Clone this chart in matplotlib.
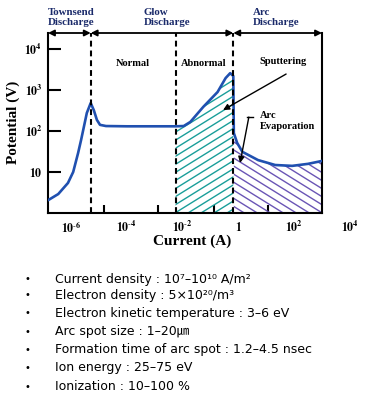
import matplotlib
matplotlib.use("Agg")
import matplotlib.pyplot as plt
import numpy as np
from matplotlib.collections import LineCollection
from matplotlib.ticker import NullLocator

plt.rcParams['mathtext.fontset'] = 'stix'

# curve
current = [1.6e-7, 3.5e-7, 7.8e-7, 1.2e-6, 1.8e-6, 2.3e-6, 2.9e-6, 3.7e-6, 5.1e-6,
           6.6e-6, 8.5e-6, 1.1e-5, 1.8e-5, 1e-4, 1e-3, 5.6e-3, 1.1e-2, 1.9e-2,
           5.6e-2, 0.18, 0.35, 0.51, 0.66, 0.69, 0.91, 1.4, 5.1, 21, 85, 316, 1000]
potential = [2.1, 2.9, 5.4, 10, 29, 60, 126, 275, 480,
             320, 186, 141, 132, 130, 130, 130, 132, 166,
             390, 890, 1950, 2570, 2190, 89, 51, 31, 19.5, 14.8, 14.1, 15.8, 18.6]

# region boundaries
glow_start = 5.1e-6
abnormal_start = 5.6e-3
arc_start = 0.66

x_ticks = [1.5e-5, 1.3e-3, 0.13, 12]
x_label_pows = [-6, -4, -2, 0, 2, 4]
y_ticks = [10, 100, 1000, 10000]
y_tick_labels = [r'$\mathbf{10}$', r'$\mathbf{10^{2}}$', r'$\mathbf{10^{3}}$', r'$\mathbf{10^{4}}$']

notes = [
    "Current density : 10\u2077\u201310\u00b9\u2070 A/m\u00b2",
    "Electron density : 5\u00d710\u00b2\u2070/m\u00b3",
    "Electron kinetic temperature : 3\u20136 eV",
    "Arc spot size : 1\u201320\u339b",
    "Formation time of arc spot : 1.2\u20134.5 nsec",
    "Ion energy : 25\u201375 eV",
    "Ionization : 10\u2013100 %",
]
note_y = [279, 295, 313, 332, 350, 368, 387]

W, H = 366, 399
fig = plt.figure(figsize=(W / 100, H / 100), dpi=100)
ax = fig.add_axes([48 / W, 1 - 213 / H, 274 / W, 180 / H])
ax.set_xscale('log')
ax.set_yscale('log')
xlim = (1.5e-7, 1000)
ax.set_xlim(xlim)
ax.set_ylim(1, 24500)

blue = '#2050b0'
teal = '#1a9e9a'
purple = '#6a55b5'
navy = '#1a2a6a'
serif = 'Liberation Serif'

cur = np.array(current)
pot = np.array(potential)

def hatch(mask, color, sign):
    fb = ax.fill_between(cur, pot, 1, where=mask, facecolor='none', edgecolor='none')
    path = fb.get_paths()[0]
    k = 0.62 * 274 / 180
    segs = []
    for c in np.arange(-3, 2, 13 / 274):
        if sign > 0:
            segs.append([(c, 0), (c + 3, 3 * k)])
        else:
            segs.append([(c, 1), (c + 3, 1 - 3 * k)])
    lc = LineCollection(segs, colors=color, linewidths=1.0, transform=ax.transAxes)
    ax.add_collection(lc, autolim=False)
    lc.set_clip_path(path, ax.transData)

hatch((cur >= abnormal_start) & (cur <= arc_start), teal, 1)
hatch(cur >= 0.69, purple, -1)

ax.plot(current, potential, color=blue, lw=1.9, solid_joinstyle='round', zorder=3)

for xv in [glow_start, abnormal_start, arc_start]:
    ax.axvline(xv, color='black', lw=1.5, dashes=(2.8, 1.9), zorder=4)

for s in ['left', 'bottom', 'right']:
    ax.spines[s].set_linewidth(1.5)
ax.spines['top'].set_visible(False)

ax.xaxis.set_minor_locator(NullLocator())
ax.yaxis.set_minor_locator(NullLocator())
ax.set_xticks(x_ticks)
ax.set_xticklabels([])
ax.tick_params(axis='x', direction='in', length=5.8, width=1.5)
ax.set_yticks(y_ticks)
ax.set_yticklabels(y_tick_labels, fontsize=8.5)
ax.tick_params(axis='y', direction='in', length=9, width=1.5, pad=4)

xt = ax.get_xaxis_transform()
for p in x_label_pows:
    lab = r'$\mathbf{1}$' if p == 0 else r'$\mathbf{10^{\text{-}%d}}$' % -p if p < 0 else r'$\mathbf{10^{%d}}$' % p
    ax.text(10.0 ** p, -0.083, lab, transform=xt, ha='center', va='center',
            fontsize=8.5, clip_on=False)

# top arrows
for a, b in [(xlim[0], glow_start), (glow_start, arc_start), (arc_start, xlim[1])]:
    ax.annotate('', xy=(b, 1), xytext=(a, 1), xycoords=xt, textcoords=xt,
                arrowprops=dict(arrowstyle='<|-|>', color='black', lw=1.3,
                                mutation_scale=9, shrinkA=0, shrinkB=0),
                annotation_clip=False)

ax.text(0.0, 1.085, 'Townsend\nDischarge', transform=ax.transAxes, ha='left', va='center',
        fontsize=7.8, fontweight='bold', family=serif, color=navy, linespacing=1.2)
ax.text(0.35, 1.085, 'Glow\nDischarge', transform=ax.transAxes, ha='left', va='center',
        fontsize=7.8, fontweight='bold', family=serif, color=navy, linespacing=1.2)
ax.text(0.748, 1.085, 'Arc\nDischarge', transform=ax.transAxes, ha='left', va='center',
        fontsize=7.8, fontweight='bold', family=serif, color=navy, linespacing=1.2)

ax.text(0.31, 0.828, 'Normal', transform=ax.transAxes, ha='center', va='center',
        fontsize=7.5, fontweight='bold', family=serif)
ax.text(0.569, 0.828, 'Abnormal', transform=ax.transAxes, ha='center', va='center',
        fontsize=7.5, fontweight='bold', family=serif)
ax.text(0.858, 0.839, 'Sputtering', transform=ax.transAxes, ha='center', va='center',
        fontsize=7.5, fontweight='bold', family=serif)
ax.annotate('', xy=(0.639, 0.572), xytext=(0.869, 0.772), xycoords='axes fraction',
            arrowprops=dict(arrowstyle='-|>', color='black', lw=1.0, mutation_scale=9,
                            shrinkA=0, shrinkB=0))
ax.text(0.774, 0.511, 'Arc\nEvaporation', transform=ax.transAxes, ha='left', va='center',
        fontsize=7.5, fontweight='bold', family=serif, linespacing=1.2)
ax.plot([0.726, 0.748], [0.533, 0.533], color='black', lw=1.0, transform=ax.transAxes)
ax.annotate('', xy=(0.701, 0.278), xytext=(0.733, 0.533), xycoords='axes fraction',
            arrowprops=dict(arrowstyle='-|>', color='black', lw=1.0, mutation_scale=9,
                            shrinkA=0, shrinkB=0))

fig.text(13 / W, 1 - 122 / H, 'Potential (V)', rotation=90, ha='center', va='center',
         fontsize=11, fontweight='bold', family=serif)
fig.text(192 / W, 1 - 241 / H, 'Current (A)', ha='center', va='center',
         fontsize=11, fontweight='bold', family=serif)

for t, yy in zip(notes, note_y):
    fig.text(27 / W, 1 - yy / H, '\u2022', ha='center', va='center', fontsize=7,
             family=['DejaVu Sans'])
    fig.text(55 / W, 1 - yy / H, t, ha='left', va='center', fontsize=9,
             family=['DejaVu Sans', 'Noto Sans CJK KR'])

fig.savefig('out.png', dpi=100)
